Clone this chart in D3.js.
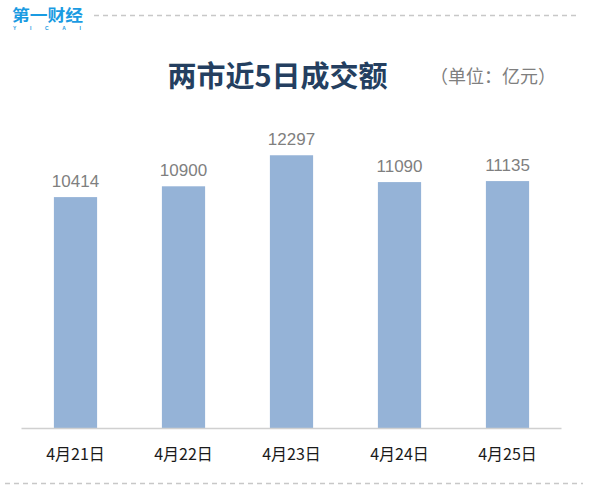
<!DOCTYPE html>
<html>
<head>
<meta charset="utf-8">
<script src="https://cdn.jsdelivr.net/npm/d3@7/dist/d3.min.js"></script>
<style>
  html, body { margin: 0; padding: 0; background: #fff; }
  svg { display: block; }
</style>
</head>
<body>
<svg id="chart" width="600" height="496"></svg>
<script>
const categories = ["4月21日", "4月22日", "4月23日", "4月24日", "4月25日"];
const values = [10414, 10900, 12297, 11090, 11135];
const titleText = "两市近5日成交额";
const unitText = "（单位：亿元）";

const svg = d3.select("#chart");
const W = 600, H = 496;
const baseY = 428.5;
const cjk = "'Noto Sans CJK SC', 'Noto Sans', sans-serif";

svg.append("rect").attr("width", W).attr("height", H).attr("fill", "#fff");

// Logo
const logo = svg.append("g");
logo.append("text")
  .attr("x", 12).attr("y", 21)
  .attr("textLength", 71).attr("lengthAdjust", "spacingAndGlyphs")
  .attr("font-family", cjk).attr("font-weight", 700).attr("font-size", 16)
  .attr("fill", "#1a9be2").text("第一财经");
logo.append("text")
  .attr("x", 13).attr("y", 29.5)
  .attr("textLength", 68).attr("lengthAdjust", "spacing")
  .attr("font-family", "'Liberation Sans', Arial, sans-serif").attr("font-weight", 700).attr("font-size", 5)
  .attr("fill", "#1a9be2").text("YICAI");

// Dashed separator lines
svg.append("line").attr("x1", 94).attr("x2", 580).attr("y1", 15.5).attr("y2", 15.5)
  .attr("stroke", "#c8c8c8").attr("stroke-width", 1.5).attr("stroke-dasharray", "5,4");
svg.append("line").attr("x1", 5).attr("x2", 583).attr("y1", 483.5).attr("y2", 483.5)
  .attr("stroke", "#c8c8c8").attr("stroke-width", 1.5).attr("stroke-dasharray", "5,4");

// Title
svg.append("text")
  .attr("x", 277.5).attr("y", 87).attr("text-anchor", "middle")
  .attr("font-family", cjk).attr("font-weight", 700).attr("font-size", 29)
  .attr("fill", "#243f60").text(titleText);
svg.append("text")
  .attr("x", 430).attr("y", 83)
  .attr("font-family", cjk).attr("font-size", 18)
  .attr("fill", "#7f7f7f").text(unitText);

// Scales
const x = d3.scaleBand().domain(categories).range([21.5, 561.5])
  .paddingInner(0.6).paddingOuter(0.3);
const y = d3.scaleLinear().domain([0, 14000]).range([baseY, baseY - 14000 * 0.02222]);

// Bars
svg.append("g").selectAll("rect").data(values).join("rect")
  .attr("x", (d, i) => x(categories[i]))
  .attr("y", d => y(d))
  .attr("width", x.bandwidth())
  .attr("height", d => baseY - y(d))
  .attr("fill", "#95b3d7");

// Value labels
svg.append("g").selectAll("text").data(values).join("text")
  .attr("x", (d, i) => x(categories[i]) + x.bandwidth() / 2)
  .attr("y", d => y(d) - 10)
  .attr("text-anchor", "middle")
  .attr("font-family", "'Liberation Sans', Arial, sans-serif")
  .attr("font-size", 17)
  .attr("fill", "#7f7f7f")
  .text(d => d);

// X axis
const xAxis = svg.append("g").attr("transform", `translate(0,${baseY})`)
  .call(d3.axisBottom(x).tickSize(0).tickPadding(20));
xAxis.select(".domain").attr("stroke", "#d0d0d0").attr("stroke-width", 1.5)
  .attr("d", `M21.5,0H561.5`);
xAxis.selectAll("text")
  .attr("font-family", cjk).attr("font-size", 16).attr("fill", "#1a1a1a")
  .attr("dy", "0.71em");
</script>
</body>
</html>
